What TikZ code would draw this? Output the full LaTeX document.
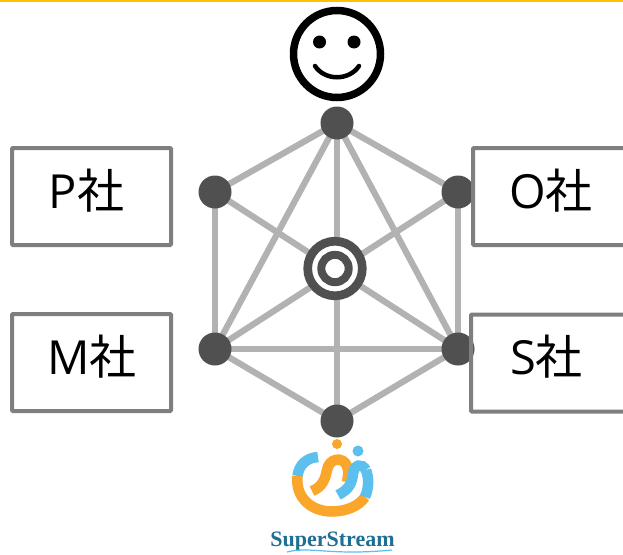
\documentclass[tikz,border=0pt]{standalone}
\usepackage{fontspec}
\usetikzlibrary{backgrounds}
\setmainfont{Open Sans}
\newfontfamily\cjk{Noto Sans CJK JP}
\newfontfamily\logofont{Liberation Serif}
\newcommand{\sha}{{\cjk 社}}
\definecolor{dotc}{HTML}{505050}
\definecolor{linec}{HTML}{B2B2B2}
\definecolor{boxc}{HTML}{7F7F7F}
\definecolor{topc}{HTML}{FFC000}
\definecolor{logoO}{HTML}{F9A62B}
\definecolor{logoB}{HTML}{5CC0EE}
\definecolor{logoT}{HTML}{1F6F93}
\tikzset{
  hub/.style={circle,fill=dotc,minimum size=33pt,inner sep=0pt},
  link/.style={draw=linec,line width=6.2pt},
  company/.style={draw=boxc,line width=4pt,rounded corners=1pt,fill=none,inner sep=0pt,minimum height=97pt},
  label/.style={anchor=base,inner sep=0pt,font=\fontsize{47pt}{47pt}\selectfont},
  target/.style={circle,fill=white,minimum size=63pt,inner sep=0pt},
  sw/.style={line width=10.5pt}
}
\begin{document}
\begin{tikzpicture}[x=1pt,y=-1pt]
\useasboundingbox (0,0) rectangle (623,554);
% hubs
\node[hub] (t) at (337,123) {};
\node[hub] (ul) at (215,192) {};
\node[hub] (ur) at (458,192) {};
\node[hub] (ll) at (215,349) {};
\node[hub] (lr) at (458,349) {};
\node[hub] (b) at (337,421) {};
\node[target] (c) at (335,268.5) {};
\draw[dotc,line width=8.7pt] (c.center) circle (27.3);
\draw[dotc,line width=8pt] (c.center) circle (13.7);
\begin{scope}[on background layer]
\fill[white] (0,0) rectangle (623,554);
\fill[topc] (0,0) rectangle (623,1.6);
\draw[link] (t.center)--(ul.center);
\draw[link] (t.center)--(ur.center);
\draw[link] (ul.center)--(ll.center);
\draw[link] (ur.center)--(lr.center);
\draw[link] (ll.center)--(b.center);
\draw[link] (lr.center)--(b.center);
\draw[link] (ll.center)--(lr.center);
\draw[link] (t.center)--(ll.center);
\draw[link] (t.center)--(lr.center);
\draw[link] (t.center)--(b.center);
\draw[link] (ul.center)--(lr.center);
\draw[link] (ur.center)--(ll.center);
\end{scope}
% boxes
\node[company,minimum width=159pt] (p) at (91.5,196.5) {};
\node[company,minimum width=159pt] (m) at (91.5,362.5) {};
\node[company,minimum width=170pt] (o) at (558,196.5) {};
\node[company,minimum width=170pt] (s) at (556,363) {};
\node[label] (pt) at (86.5,208) {P\sha};
\node[label] (mt) at (92,374) {M\sha};
\node[label] (ot) at (551,208) {O\sha};
\node[label] (st) at (546.5,374) {S\sha};
% smiley
\draw[black,line width=7.5pt] (337,54) circle (43.5);
\fill (319.5,42) circle (6.5);
\fill (354,42) circle (6.5);
\draw[line width=4.5pt,line cap=round] (315,66) .. controls (325,81) and (349,81) .. (359,66);
% logo
\fill[logoO] (337,444) circle (5);
\fill[logoB] (358,451) circle (5.5);
\draw[logoB,sw] (318,457) .. controls (306,458) and (299,465) .. (297.5,476);
\draw[logoO,sw] (297.5,476) .. controls (295,498) and (312,512) .. (333,511.5) .. controls (347,511) and (359,506) .. (365,497);
\draw[logoB,sw] (365,497) .. controls (369,488) and (369,478) .. (366,470);
\draw[logoO,sw] (312,491) .. controls (322,487) and (325,480) .. (327,470) .. controls (329,458) and (343,456) .. (347,466) .. controls (349,471) and (348,476) .. (347,482);
\draw[logoB,sw] (338,495) .. controls (350,489) and (352,482) .. (353,474) .. controls (354,464) and (362,463) .. (366,470);
\node[inner sep=0pt,anchor=base,text=logoT,font=\logofont\fontsize{22}{22}\selectfont\bfseries] (ss) at (332.5,546) {SuperStream};
\draw[logoB,line width=1.2pt] (287,552) .. controls (310,546) and (330,556) .. (392,550);
\end{tikzpicture}
\end{document}
